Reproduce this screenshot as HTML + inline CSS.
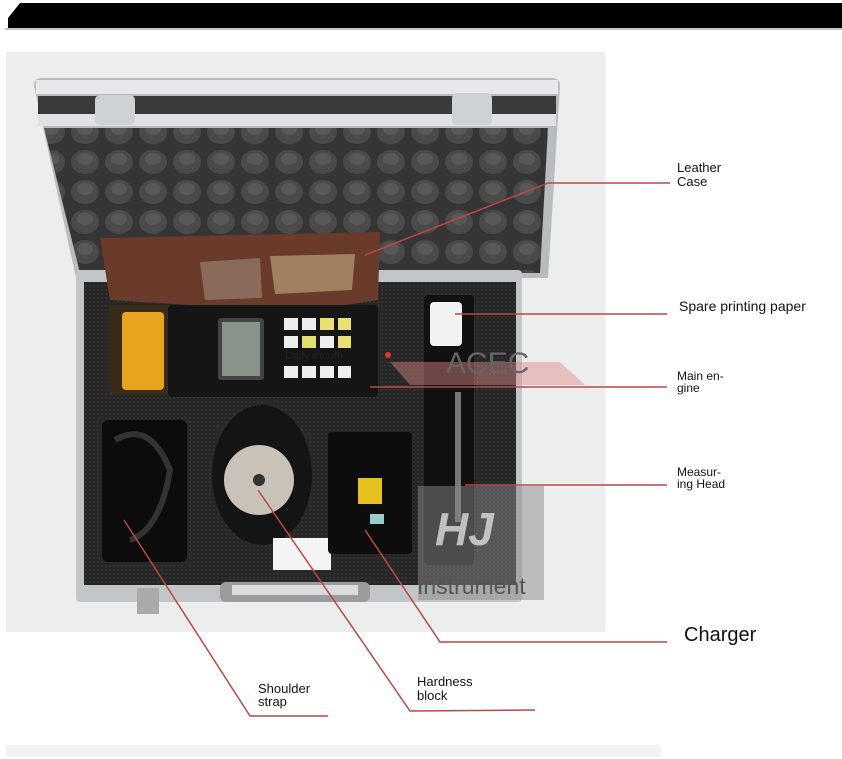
<!DOCTYPE html>
<html><head><meta charset="utf-8"><style>
html,body{margin:0;padding:0;background:#fff;}
svg{display:block;}
text{font-family:"Liberation Sans",sans-serif;}
</style></head><body>
<svg width="842" height="759" viewBox="0 0 842 759" xmlns="http://www.w3.org/2000/svg">
<defs>
<pattern id="bump" width="34" height="30" patternUnits="userSpaceOnUse">
<rect width="34" height="30" fill="#353535"/>
<ellipse cx="17" cy="12" rx="14" ry="12" fill="#4a4a4a"/>
<ellipse cx="17" cy="9" rx="8" ry="6" fill="#585858"/>
</pattern>
<pattern id="mesh" width="4" height="4" patternUnits="userSpaceOnUse">
<rect width="4" height="4" fill="#262626"/><circle cx="2" cy="2" r="0.9" fill="#3c3c3c"/>
</pattern>
</defs>
<path d="M20 3 L842 3 L842 28 L8 28 L8 18 Z" fill="#000"/>
<line x1="5" y1="29" x2="842" y2="29" stroke="#888" stroke-width="1"/>
<rect x="6" y="52" width="599" height="580" fill="#eceeed"/>
<rect x="6" y="745" width="655" height="12" fill="#f3f3f3"/>
<!-- lid -->
<path d="M34 86 Q34 78 42 78 L552 78 Q560 78 560 86 L548 278 L76 278 Z" fill="#b8bcbe"/>
<rect x="36" y="80" width="522" height="14" fill="#e6e8ea"/>
<rect x="38" y="96" width="518" height="18" fill="#3a3a3a"/>
<rect x="38" y="114" width="518" height="12" fill="#dfe2e4"/>
<rect x="95" y="95" width="40" height="30" rx="5" fill="#cfd2d4"/>
<rect x="452" y="93" width="40" height="32" rx="5" fill="#cfd2d4"/>
<path d="M44 128 L548 128 L540 273 L80 273 Z" fill="url(#bump)"/>
<!-- base -->
<rect x="76" y="270" width="446" height="332" rx="4" fill="#c3c6c8"/>
<rect x="84" y="282" width="432" height="303" fill="url(#mesh)"/>
<rect x="220" y="582" width="150" height="20" rx="6" fill="#9a9c9e"/>
<rect x="232" y="585" width="126" height="10" fill="#d8dadc"/>
<rect x="137" y="588" width="22" height="26" fill="#a8aaac"/>
<!-- leather case -->
<path d="M100 238 L380 232 L378 300 L300 312 L110 300 Z" fill="#6a3a2a"/>
<path d="M200 262 L260 258 L262 298 L205 300 Z" fill="#8a6a5a"/>
<path d="M270 256 L355 254 L352 290 L275 294 Z" fill="#a08060"/>
<!-- printer & main engine -->
<rect x="110" y="305" width="70" height="90" fill="#3a2a18"/>
<rect x="122" y="312" width="42" height="78" rx="4" fill="#e7a51f"/>
<rect x="168" y="305" width="210" height="92" rx="4" fill="#151515"/>
<rect x="218" y="318" width="46" height="62" rx="3" fill="#444"/>
<rect x="222" y="322" width="38" height="54" fill="#8a938a"/>
<g fill="#eee">
<rect x="284" y="318" width="14" height="12"/><rect x="302" y="318" width="14" height="12"/>
<rect x="320" y="318" width="14" height="12" fill="#e8e070"/><rect x="338" y="318" width="13" height="12" fill="#e8e070"/>
<rect x="284" y="336" width="14" height="12"/><rect x="302" y="336" width="14" height="12" fill="#dfe070"/>
<rect x="320" y="336" width="14" height="12"/><rect x="338" y="336" width="13" height="12" fill="#e8e070"/>
<rect x="284" y="366" width="14" height="12"/><rect x="302" y="366" width="14" height="12"/>
<rect x="320" y="366" width="14" height="12"/><rect x="338" y="366" width="13" height="12"/>
</g>
<text x="285" y="359" font-size="11" fill="#222">Daily mouth</text>
<rect x="424" y="295" width="50" height="270" rx="4" fill="#111"/>
<rect x="430" y="302" width="32" height="44" rx="4" fill="#f2f2f2"/>
<rect x="455" y="392" width="6" height="130" fill="#777"/>
<rect x="102" y="420" width="85" height="142" rx="6" fill="#0c0c0c"/>
<path d="M115 440 Q150 420 170 470 Q160 530 130 540" stroke="#333" stroke-width="6" fill="none"/>
<ellipse cx="262" cy="475" rx="50" ry="70" fill="#141414"/>
<circle cx="259" cy="480" r="35" fill="#c9c2b9"/>
<circle cx="259" cy="480" r="6" fill="#333"/>
<rect x="273" y="538" width="58" height="32" fill="#f4f4f4"/>
<rect x="328" y="432" width="84" height="122" rx="4" fill="#0d0d0d"/>
<rect x="358" y="478" width="24" height="26" fill="#e6c01c"/>
<rect x="370" y="514" width="14" height="10" fill="#9cc"/>
<rect x="418" y="486" width="126" height="114" fill="#888" opacity="0.5"/>
<text x="435" y="545" font-size="46" font-weight="bold" font-style="italic" fill="#ddd" opacity="0.8">HJ</text>
<text x="417" y="594" font-size="23" fill="#555">Instrument</text>
<path d="M390 362 L560 362 L585 385 L410 385 Z" fill="#d88" opacity="0.45"/>
<text x="446" y="373" font-size="30" fill="#666">ACEC</text>
<circle cx="388" cy="355" r="3" fill="#d33"/>
<g stroke="#b84848" stroke-width="1.5" fill="none">
<polyline points="365,255 548,183 670,183"/>
<line x1="455" y1="314" x2="667" y2="314"/>
<line x1="370" y1="387" x2="667" y2="387"/>
<line x1="465" y1="485" x2="667" y2="485"/>
<polyline points="365,530 440,642 667,642"/>
<polyline points="258,490 410,711 535,710"/>
<polyline points="124,520 250,716 328,716"/>
</g>
<g fill="#111" font-size="13">
<text x="677" y="172">Leather</text><text x="677" y="186">Case</text>
<text x="679" y="311" font-size="14">Spare printing paper</text>
<text x="677" y="380" font-size="12">Main en-</text><text x="677" y="392" font-size="12">gine</text>
<text x="677" y="476" font-size="12">Measur-</text><text x="677" y="488" font-size="12">ing Head</text>
<text x="684" y="641" font-size="20">Charger</text>
<text x="417" y="686">Hardness</text><text x="417" y="700">block</text>
<text x="258" y="693">Shoulder</text><text x="258" y="706">strap</text>
</g>
</svg>
</body></html>
